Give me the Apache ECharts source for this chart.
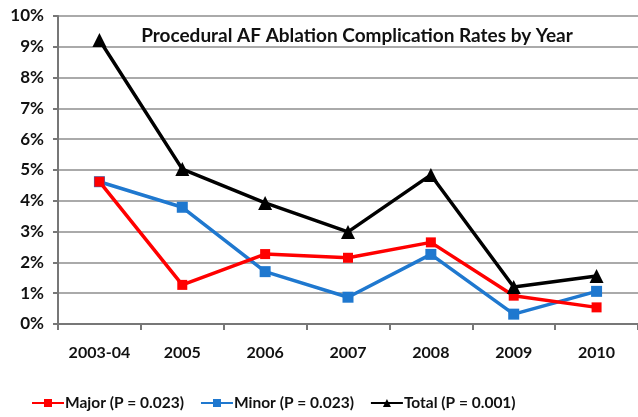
<!DOCTYPE html>
<html>
<head>
<meta charset="utf-8">
<script src="https://cdn.jsdelivr.net/npm/echarts@6/dist/echarts.min.js"></script>
<style>
  html, body { margin: 0; padding: 0; background: #fff; }
  #chart { width: 638px; height: 417px; }
</style>
</head>
<body>
<div id="chart"></div>
<script>
const years = ["2003-04", "2005", "2006", "2007", "2008", "2009", "2010"];
const major = [4.62, 1.27, 2.27, 2.15, 2.65, 0.92, 0.54];
const minor = [4.62, 3.79, 1.70, 0.87, 2.26, 0.32, 1.06];
const total = [9.22, 5.03, 3.93, 2.99, 4.84, 1.20, 1.56];

const font = "Lato";

const chart = echarts.init(document.querySelector("#chart"));

chart.setOption({
  animation: false,
  title: {
    text: "Procedural AF Ablation Complication Rates by Year",
    left: 352,
    top: 21,
    textAlign: "center",
    textStyle: { fontFamily: font, fontWeight: "bold", fontSize: 19, color: "#111" }
  },
  legend: {
    bottom: 1,
    left: 26,
    itemWidth: 32,
    itemHeight: 10,
    itemGap: 16,
    textStyle: { fontFamily: font, fontWeight: "bold", fontSize: 15.5, color: "#111", padding: [0, 0, 0, -4] },
    data: ["Major (P = 0.023)", "Minor (P = 0.023)", "Total (P = 0.001)"]
  },
  grid: { left: 58, top: 16, width: 584, height: 308 },
  xAxis: {
    type: "category",
    data: years,
    boundaryGap: true,
    axisLine: { lineStyle: { color: "#777", width: 2 } },
    axisTick: { show: true, length: 6, lineStyle: { color: "#777", width: 2 } },
    axisLabel: { fontFamily: font, fontWeight: "bold", fontSize: 16, color: "#111", margin: 21 }
  },
  yAxis: {
    type: "value",
    min: 0,
    max: 10,
    interval: 1,
    axisLine: { show: true, lineStyle: { color: "#777", width: 2 } },
    axisTick: { show: true, length: 5, lineStyle: { color: "#777", width: 2 } },
    splitLine: { lineStyle: { color: "#aaa", width: 2 } },
    axisLabel: {
      formatter: "{value}%",
      fontFamily: font, fontWeight: "bold", fontSize: 17, color: "#111", margin: 14
    }
  },
  series: [
    {
      name: "Major (P = 0.023)",
      type: "line",
      data: major,
      color: "#ff0000",
      symbol: "rect",
      symbolSize: 10,
      lineStyle: { width: 3.5 },
      z: 3
    },
    {
      name: "Minor (P = 0.023)",
      type: "line",
      data: minor,
      color: "#1f78cf",
      symbol: "rect",
      symbolSize: 11,
      lineStyle: { width: 3.5 },
      z: 2
    },
    {
      name: "Total (P = 0.001)",
      type: "line",
      data: total,
      color: "#000000",
      symbol: "triangle",
      symbolSize: 14,
      lineStyle: { width: 3.5 },
      z: 4
    }
  ]
});
</script>
</body>
</html>
